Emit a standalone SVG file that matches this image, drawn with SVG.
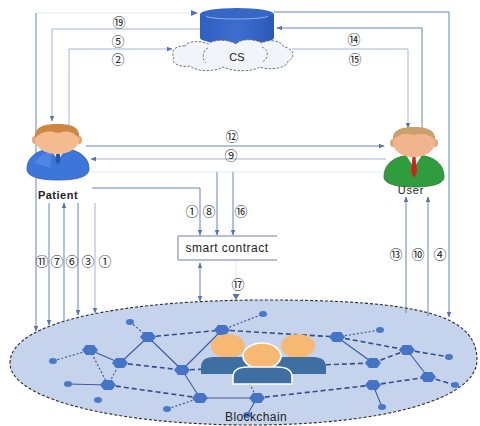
<svg xmlns="http://www.w3.org/2000/svg" width="480" height="426" viewBox="0 0 480 426">
  <style>
    .ln { fill: none; stroke: #6483bd; stroke-width: 1; }
    .lt { fill: none; stroke: #a3b6da; stroke-width: 1; }
    .lf { fill: none; stroke: #e3e9f4; stroke-width: 1; }
    .num { font-family: "Noto Sans CJK SC", "DejaVu Sans", sans-serif; font-size: 13px; fill: #222; text-anchor: middle; dominant-baseline: central; }
    .lbl { font-family: "Liberation Sans", Arial, sans-serif; fill: #222; text-anchor: middle; }
    .es { fill: none; stroke: #3b5c9c; stroke-width: 1.1; }
    .ed { fill: none; stroke: #2f4f8f; stroke-width: 1.6; stroke-dasharray: 5 3; }
    .eo { fill: none; stroke: #3b5c9c; stroke-width: 1.2; stroke-dasharray: 2 2; }
  </style>
  <defs>
    <marker id="ah" viewBox="0 0 10 10" refX="9" refY="5" markerWidth="6" markerHeight="6" orient="auto-start-reverse">
      <path d="M0,1 L10,5 L0,9 z" fill="#5574ae"/>
    </marker>
    <symbol id="hex" viewBox="-9 -6 18 12" width="18" height="12">
      <polygon points="-8,0 -4,-5 4,-5 8,0 4,5 -4,5" fill="#4573c6"/>
    </symbol>
    <linearGradient id="dbg" x1="0" y1="0" x2="1" y2="0">
      <stop offset="0" stop-color="#2f5fc0"/>
      <stop offset="0.5" stop-color="#3d6fd0"/>
      <stop offset="1" stop-color="#2c59b6"/>
    </linearGradient>
  </defs>

  <rect width="480" height="426" fill="#ffffff"/>

  <!-- Blockchain network -->
  <g id="blockchain">
    <path d="M10,363 C10,320 130,300 265,300 C420,300 477,315 477,360 C477,400 380,425 250,425 C120,425 10,400 10,363 Z"
          fill="#c6d3ec" stroke="#2a2a2a" stroke-width="1.1" stroke-dasharray="3 2"/>
    <!-- links -->
    <path class="eo" d="M130,322 L148,337"/>
    <path class="es" d="M148,337 L120,363 M148,337 L182,370 M90,350 L120,363 M108,385 L68,384 M182,370 L200,398 M200,398 L257,398 M182,370 L222,330 M257,398 L247,415 M407,350 L428,377 M373,385 L382,407 M337,337 L373,363"/>
    <path class="ed" d="M148,337 L222,330 M120,363 L182,370 M108,385 L200,398 M222,330 L337,337 M182,370 L373,363 M257,398 L373,385 M373,385 L428,377 M373,363 L407,350 M337,337 L407,350 M407,350 L449,357 M428,377 L455,385"/>
    <path class="eo" d="M90,350 L53,361 M90,350 L108,385 M120,363 L108,385 M200,398 L167,409 M222,330 L263,314 M337,337 L380,330 M222,330 L257,398"/>
    <!-- hexagon nodes -->
    <use href="#hex" x="139" y="331"/>
    <use href="#hex" x="81" y="344"/>
    <use href="#hex" x="111" y="357"/>
    <use href="#hex" x="173" y="364"/>
    <use href="#hex" x="99" y="379"/>
    <use href="#hex" x="191" y="392"/>
    <use href="#hex" x="213" y="324"/>
    <use href="#hex" x="248" y="392"/>
    <use href="#hex" x="328" y="331"/>
    <use href="#hex" x="398" y="344"/>
    <use href="#hex" x="364" y="357"/>
    <use href="#hex" x="419" y="371"/>
    <use href="#hex" x="364" y="379"/>
    <!-- leaf nodes -->
    <g fill="#4a78c9">
      <ellipse cx="130" cy="322" rx="4" ry="3"/>
      <ellipse cx="53" cy="361" rx="4" ry="3"/>
      <ellipse cx="68" cy="384" rx="4" ry="3"/>
      <ellipse cx="98" cy="400" rx="4" ry="3"/>
      <ellipse cx="167" cy="409" rx="4" ry="3"/>
      <ellipse cx="263" cy="314" rx="4" ry="3"/>
      <ellipse cx="247" cy="415" rx="4" ry="3"/>
      <ellipse cx="380" cy="330" rx="4" ry="3"/>
      <ellipse cx="449" cy="357" rx="4" ry="3"/>
      <ellipse cx="455" cy="385" rx="4" ry="3"/>
      <ellipse cx="382" cy="407" rx="4" ry="3"/>
    </g>
    <!-- group of members -->
    <g>
      <ellipse cx="228" cy="346" rx="17" ry="12" fill="#f7b873"/>
      <path d="M201,374 V367 Q201,357 214,357 H242 Q255,357 255,367 V374 Z" fill="#3e6fa0"/>
      <ellipse cx="298" cy="346" rx="17" ry="12" fill="#f7b873"/>
      <path d="M272,374 V367 Q272,357 285,357 H313 Q326,357 326,367 V374 Z" fill="#3e6fa0"/>
      <ellipse cx="262" cy="356" rx="19" ry="13" fill="#f7b873" stroke="#ffffff" stroke-width="1.5"/>
      <path d="M233,384 V377 Q233,367 248,367 H277 Q292,367 292,377 V384 Z" fill="#3e6fa0" stroke="#ffffff" stroke-width="1.5"/>
    </g>
    <text class="lbl" x="256" y="421" font-size="12" letter-spacing="0.4">Blockchain</text>
  </g>

  <!-- Connectors -->
  <g id="connectors">
    <!-- top left -->
    <path class="lf" d="M36,13 H190"/>
    <path class="ln" d="M36,13 V331" marker-end="url(#ah)"/>
    <path d="M191,10 L198,13 L191,16 z" fill="#5574ae"/>
    <path class="lt" d="M200,29 H52 V121" marker-end="url(#ah)"/>
    <path class="lt" d="M69,126 V49 H172" marker-end="url(#ah)"/>
    <!-- top right -->
    <path class="ln" d="M274,12 H449 V317" marker-end="url(#ah)"/>
    <path class="ln" d="M422,133 V28 H277" marker-end="url(#ah)"/>
    <path class="lt" d="M292,49 H408 V128" marker-end="url(#ah)"/>
    <!-- patient / user -->
    <path class="ln" d="M86,146 H384" marker-end="url(#ah)"/>
    <path class="lt" d="M386,159 H91" marker-end="url(#ah)"/>
    <path class="lf" d="M92,172 H386"/>
    <path class="ln" d="M217,172 V235" marker-end="url(#ah)"/>
    <path class="ln" d="M233,172 V235" marker-end="url(#ah)"/>
    <path class="ln" d="M92,188 H200 V235" marker-end="url(#ah)"/>
    <!-- smart contract to chain -->
    <path class="ln" d="M200,263 V301" marker-start="url(#ah)" marker-end="url(#ah)"/>
    <path class="lf" d="M236,262 V299"/>
    <path d="M232.5,294 L236,300 L239.5,294 z" fill="#5574ae"/>
    <!-- patient to chain -->
    <path class="ln" d="M49,203 V325" marker-end="url(#ah)"/>
    <path class="ln" d="M64,321 V203" marker-end="url(#ah)"/>
    <path class="ln" d="M78,203 V315" marker-end="url(#ah)"/>
    <path class="lt" d="M95,203 V313" marker-end="url(#ah)"/>
    <!-- chain to user -->
    <path class="ln" d="M406,313 V197" marker-end="url(#ah)"/>
    <path class="ln" d="M428,316 V197" marker-end="url(#ah)"/>

    <!-- step numbers -->
    <text class="num" x="119" y="21">⑲</text>
    <text class="num" x="118" y="40">⑤</text>
    <text class="num" x="118" y="58">②</text>
    <text class="num" x="354" y="38">⑭</text>
    <text class="num" x="355" y="58">⑮</text>
    <text class="num" x="232" y="135">⑫</text>
    <text class="num" x="231" y="154">⑨</text>
    <text class="num" x="192" y="210">①</text>
    <text class="num" x="209" y="210">⑧</text>
    <text class="num" x="241" y="210">⑯</text>
    <text class="num" x="238" y="283">⑰</text>
    <text class="num" x="42" y="260">⑪</text>
    <text class="num" x="57" y="260">⑦</text>
    <text class="num" x="72" y="260">⑥</text>
    <text class="num" x="88" y="260">③</text>
    <text class="num" x="105" y="260">①</text>
    <text class="num" x="396" y="253">⑬</text>
    <text class="num" x="418" y="253">⑩</text>
    <text class="num" x="440" y="253">④</text>
  </g>

  <!-- CS: storage with cloud -->
  <g id="cs">
    <path d="M200,14 V38 A37,6 0 0 0 274,38 V14 Z" fill="url(#dbg)"/>
    <ellipse cx="237" cy="14" rx="37" ry="6" fill="#3666c6"/>
    <path d="M206,16 A31,3 0 0 0 268,16" fill="none" stroke="#8fb0ea" stroke-width="1"/>
    <path d="M185,46 C176,45 170,51 174,57 C170,63 180,68 190,66 C197,72 215,72 223,67 C233,72 252,72 260,67 C270,71 288,68 288,61 C296,58 294,48 284,47 C281,40 268,39 262,43 C253,38 240,39 236,44 C228,39 214,39 208,44 C200,40 188,41 185,46 Z"
          fill="#f1f4fa" stroke="#666" stroke-width="0.9" stroke-dasharray="2.5 1.5"/>
    <path d="M208,48 C202,50 202,60 206,63 M262,47 C270,50 268,60 262,62" fill="none" stroke="#666" stroke-width="0.8" stroke-dasharray="2.5 1.5"/>
    <text class="lbl" x="237" y="61" font-size="11">CS</text>
  </g>

  <!-- Patient -->
  <g id="patient">
    <path d="M27,169 C27,155 41,148 58,148 C75,148 89,155 89,169 C89,177 76,180 58,180 C40,180 27,177 27,169 Z" fill="#3c76d8" stroke="#2d5cb0" stroke-width="0.8"/>
    <path d="M35,163 C38,156 46,152 52,151 L50,168 Z" fill="#5b91ee" opacity="0.6"/>
    <polygon points="50,149 58,160 66,149" fill="#e9eef8"/>
    <polygon points="56.5,151 59.5,151 60.5,161 58,165 55.5,161" fill="#2a55a6"/>
    <ellipse cx="35" cy="140" rx="3" ry="4" fill="#e9a577"/>
    <ellipse cx="79" cy="140" rx="3" ry="4" fill="#e9a577"/>
    <ellipse cx="57" cy="140" rx="22" ry="14" fill="#f4ba90"/>
    <path d="M35,138 C34,126 46,124 57,124 C69,124 81,126 79,138 C73,131 65,130 58,133 C50,130 41,131 35,138 Z" fill="#cd8743"/>
    <text class="lbl" x="58" y="199" font-size="11" font-weight="bold" letter-spacing="0.5">Patient</text>
  </g>

  <!-- User -->
  <g id="user">
    <path d="M384,177 C384,162 397,155 414,155 C431,155 444,162 444,177 C444,184 431,187 414,187 C397,187 384,184 384,177 Z" fill="#2f9c3e" stroke="#257a30" stroke-width="0.8"/>
    <polygon points="406,155 414,168 422,155" fill="#eef5ee"/>
    <polygon points="412.5,157 415.5,157 417,172 414,178 411,172" fill="#d71f1f"/>
    <ellipse cx="393" cy="143" rx="3" ry="4" fill="#e9a577"/>
    <ellipse cx="435" cy="143" rx="3" ry="4" fill="#e9a577"/>
    <ellipse cx="414" cy="143" rx="21" ry="14" fill="#f2b48f"/>
    <path d="M393,140 C392,129 403,127 414,127 C425,127 436,129 435,140 C430,134 422,133 414,135 C406,133 398,134 393,140 Z" fill="#c99f6c"/>
    <text class="lbl" x="411" y="194" font-size="11" letter-spacing="0.8">User</text>
  </g>

  <!-- Smart contract -->
  <g id="smart-contract">
    <rect x="178.5" y="236.5" width="98" height="23" fill="#ffffff"/>
    <path d="M277,236 H178 V260 H277" fill="none" stroke="#6d7fa6" stroke-width="1"/>
    <text class="lbl" x="227" y="252" font-size="12" letter-spacing="0.5">smart contract</text>
  </g>
</svg>
